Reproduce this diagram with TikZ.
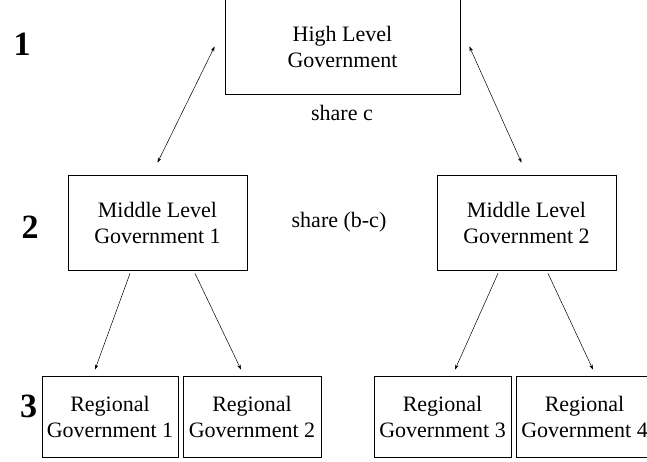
\documentclass[tikz,border=0pt]{standalone}
\usepackage{fontspec}
\setmainfont{Liberation Serif}
\usetikzlibrary{arrows.meta,positioning,calc}

\begin{document}
\begin{tikzpicture}[x=1pt, y=-1pt,
    box/.style={draw, line width=0.8pt, inner sep=0pt, align=center,
                font=\fontsize{22}{26}\selectfont},
    lvl/.style={font=\fontsize{34}{34}\selectfont\bfseries},
    txt/.style={font=\fontsize{22}{26}\selectfont},
    link/.style={line width=0.5pt, -{Stealth[length=5pt,width=3.5pt]}},
    both/.style={line width=0.5pt, {Stealth[length=5pt,width=3.5pt]}-{Stealth[length=5pt,width=3.5pt]}}]
    \useasboundingbox (0,0) rectangle (647,462);

    % Level numbers
    \node[lvl] (l1) at (22,44.5) {1};
    \node[lvl] (l2) at (30,227.5) {2};
    \node[lvl] (l3) at (28.5,406.5) {3};

    % Level 1
    \node[box, minimum width=235pt, minimum height=95pt] (hlg) at (342.5,46.5) {High Level\\Government};
    \node[txt] (sc) at (342,113) {share c};

    % Level 2
    \node[box, minimum width=179pt, minimum height=95pt] (mlg1) at (157.5,222.5) {Middle Level\\Government 1};
    \node[box, minimum width=179pt, minimum height=95pt] (mlg2) at (526.5,222.5) {Middle Level\\Government 2};
    \node[txt] (sbc) at (339,222) {share (b-c)};

    % Level 3
    \node[box, minimum width=136pt, minimum height=81pt] (rg1) at (110,416.5) {Regional\\Government 1};
    \node[box, minimum width=138pt, minimum height=81pt] (rg2) at (252,416.5) {Regional\\Government 2};
    \node[box, minimum width=137pt, minimum height=81pt] (rg3) at (442.5,416.5) {Regional\\Government 3};
    \node[box, minimum width=137pt, minimum height=81pt] (rg4) at (584.5,416.5) {Regional\\Government 4};

    % Shares between levels 1 and 2
    \draw[both] ([xshift=-10pt]hlg.west) -- ([yshift=12pt]mlg1.north);
    \draw[both] ([xshift=9pt]hlg.east) -- ([xshift=-5pt,yshift=12pt]mlg2.north);

    % Level 2 to level 3
    \draw[link] ([xshift=-27.5pt,yshift=-3pt]mlg1.south) -- ([xshift=-15pt,yshift=6pt]rg1.north);
    \draw[link] ([xshift=37.5pt,yshift=-3pt]mlg1.south) -- ([xshift=-11pt,yshift=6pt]rg2.north);
    \draw[link] ([xshift=-28.5pt,yshift=-3pt]mlg2.south) -- ([xshift=12.5pt,yshift=6pt]rg3.north);
    \draw[link] ([xshift=21.5pt,yshift=-3pt]mlg2.south) -- ([xshift=8.5pt,yshift=6pt]rg4.north);
\end{tikzpicture}
\end{document}
